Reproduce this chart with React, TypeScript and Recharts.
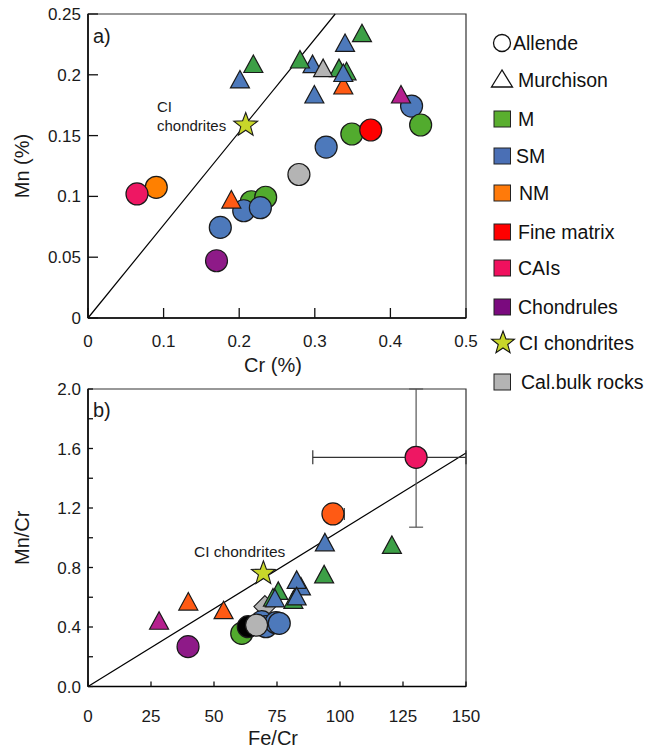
import React from 'react';
import { ScatterChart, Scatter, XAxis, YAxis, ReferenceLine, ReferenceArea, ErrorBar, Label } from 'recharts';

const FONT = '"Liberation Sans", Arial, Helvetica, sans-serif';

// ---------- Panel a: Cr (%) vs Mn (%) ----------
const aTicksX = [0, 0.1, 0.2, 0.3, 0.4, 0.5];
const aTicksY = [0, 0.05, 0.1, 0.15, 0.2, 0.25];
const aCiLine = [{ x: 0, y: 0 }, { x: 0.327, y: 0.25 }];

// Allende (circles)
const aM_circBack = [{ x: 0.216, y: 0.0956 }, { x: 0.235, y: 0.0993 }];
const aSM_circ = [{ x: 0.175, y: 0.0745 }, { x: 0.206, y: 0.0882 }, { x: 0.228, y: 0.0907 }, { x: 0.315, y: 0.1406 }, { x: 0.428, y: 0.1743 }];
const aM_circ = [{ x: 0.349, y: 0.1513 }, { x: 0.44, y: 0.1587 }];
const aNM_circ = [{ x: 0.0903, y: 0.1075 }];
const aCAI_circ = [{ x: 0.0648, y: 0.102 }];
const aChon_circ = [{ x: 0.17, y: 0.0471 }];
const aFine_circ = [{ x: 0.374, y: 0.1546 }];
const aBulk_circ = [{ x: 0.279, y: 0.118 }];
// Murchison (triangles)
const aNM_tri = [{ x: 0.1896, y: 0.0952 }, { x: 0.3377, y: 0.189 }];
const aSM_tri = [{ x: 0.201, y: 0.194 }, { x: 0.2994, y: 0.1816 }, { x: 0.297, y: 0.2066 }, { x: 0.34, y: 0.224 }, { x: 0.3377, y: 0.1993 }];
const aM_tri = [{ x: 0.2187, y: 0.2067 }, { x: 0.2804, y: 0.2104 }, { x: 0.332, y: 0.2033 }, { x: 0.342, y: 0.2007 }, { x: 0.3624, y: 0.232 }];
const aBulk_tri = [{ x: 0.311, y: 0.2033 }];
const aChon_tri = [{ x: 0.414, y: 0.1816 }];
const aCI = [{ x: 0.2086, y: 0.1587 }];

// ---------- Panel b: Fe/Cr vs Mn/Cr ----------
const bTicksX = [0, 25, 50, 75, 100, 125, 150];
const bTicksY = [0, 0.2, 0.4, 0.6, 0.8, 1.0, 1.2, 1.4, 1.6, 1.8, 2.0];
const bCiLine = [{ x: 0, y: 0 }, { x: 150, y: 1.57 }];

const bBulk_dia = [{ x: 70.2, y: 0.537 }];
const bSM_circ = [{ x: 68.9, y: 0.436 }, { x: 70.6, y: 0.402 }, { x: 74.6, y: 0.429 }, { x: 75.9, y: 0.425 }];
const bM_circ = [{ x: 61.0, y: 0.357 }];
const bAllendeBlack = [{ x: 63.6, y: 0.402 }];
const bBulk_circ = [{ x: 66.9, y: 0.413 }];
const bChon_circ = [{ x: 39.7, y: 0.268 }];
const bNM_circ = [{ x: 97.2, y: 1.16, ex: [0, 4.5] }];
// error bars run off the frame in the reference; they are cut at the frame edges
const bCAI_circ = [{ x: 130.2, y: 1.541, ex: [41, 19.8], ey: [0.47, 0.459] }];
const bChon_tri = [{ x: 28.2, y: 0.424 }];
const bNM_tri = [{ x: 39.8, y: 0.553 }, { x: 53.8, y: 0.495 }];
const bM_tri = [{ x: 75.5, y: 0.625 }, { x: 73.4, y: 0.58 }, { x: 81.5, y: 0.565 }, { x: 93.7, y: 0.736 }, { x: 120.6, y: 0.934 }];
const bSM_tri = [{ x: 84.5, y: 0.655 }, { x: 82.8, y: 0.699 }, { x: 74.2, y: 0.575 }, { x: 82.8, y: 0.588 }, { x: 94.0, y: 0.951 }];
const bCI = [{ x: 69.6, y: 0.761 }];

// ---------- Legend ----------
const legendItems = [
  { label: 'Allende', icon: 'circle', color: '#ffffff' },
  { label: 'Murchison', icon: 'triangle', color: '#ffffff' },
  { label: 'M', icon: 'square', color: '#5aae2f' },
  { label: 'SM', icon: 'square', color: '#4a6fb5' },
  { label: 'NM', icon: 'square', color: '#ff7a0a' },
  { label: 'Fine matrix', icon: 'square', color: '#ff0000' },
  { label: 'CAIs', icon: 'square', color: '#f0105e' },
  { label: 'Chondrules', icon: 'square', color: '#7a0a7e' },
  { label: 'CI chondrites', icon: 'star', color: '#c8d62a' },
  { label: 'Cal.bulk rocks', icon: 'square', color: '#b4b4b4' },
];

const C = {
  M: '#52ab2e',
  Mtri: '#3c9f46',
  SM: '#4d79bb',
  NM: '#ff8000',
  NMtri: '#ff5a14',
  fine: '#ff0000',
  CAI: '#ee1763',
  chon: '#8e1a88',
  chonTri: '#b5208e',
  CI: '#c8d62a',
  bulk: '#b4b4b4',
  black: '#000000',
};

const STROKE = '#1a1a1a';

const starPoints = (cx: number, cy: number, ro: number, ri: number) => {
  const pts: string[] = [];
  for (let i = 0; i < 10; i++) {
    const r = i % 2 === 0 ? ro : ri;
    const a = -Math.PI / 2 + (i * Math.PI) / 5;
    pts.push(`${cx + r * Math.cos(a)},${cy + r * Math.sin(a)}`);
  }
  return pts.join(' ');
};

const circ = (fill: string, r = 11) => (p: any) => (
  <circle cx={p.cx} cy={p.cy} r={r} fill={fill} stroke={STROKE} strokeWidth={1.2} />
);
const tri = (fill: string, w = 19, h = 17.5) => (p: any) => (
  <polygon
    points={`${p.cx},${p.cy - (2 * h) / 3} ${p.cx - w / 2},${p.cy + h / 3} ${p.cx + w / 2},${p.cy + h / 3}`}
    fill={fill}
    stroke={STROKE}
    strokeWidth={1.2}
    strokeLinejoin="miter"
  />
);
const star = (fill: string) => (p: any) => (
  <polygon points={starPoints(p.cx, p.cy, 12.5, 5.2)} fill={fill} stroke={STROKE} strokeWidth={1.1} />
);
const diamond = (fill: string, s = 11) => (p: any) => (
  <polygon points={`${p.cx},${p.cy - s} ${p.cx + s},${p.cy} ${p.cx},${p.cy + s} ${p.cx - s},${p.cy}`} fill={fill} stroke={STROKE} strokeWidth={1.1} />
);

const makeXTick = (len: number, dy: number, fmt: (v: number) => string) => (p: any) => (
  <g>
    <line x1={p.x} y1={p.y} x2={p.x} y2={p.y - len} stroke="#111" strokeWidth={1.3} />
    <text x={p.x} y={p.y + dy} textAnchor="middle" fontSize={17} fill="#1a1a1a" fontFamily={FONT}>
      {fmt(p.payload.value)}
    </text>
  </g>
);
const makeYTick = (len: number, fmt: (v: number) => string) => (p: any) => {
  const t = fmt(p.payload.value);
  return (
    <g>
      <line x1={p.x} y1={p.y} x2={p.x + len} y2={p.y} stroke="#111" strokeWidth={1.3} />
      {t ? (
        <text x={p.x - 7} y={p.y + 6} textAnchor="end" fontSize={17} fill="#1a1a1a" fontFamily={FONT}>
          {t}
        </text>
      ) : null}
    </g>
  );
};

const xTitle = (text: string, dy: number) => (p: any) => {
  const vb = p.viewBox || {};
  return (
    <text x={vb.x + vb.width / 2 - 4} y={vb.y + dy} textAnchor="middle" fontSize={20} fill="#1a1a1a" fontFamily={FONT}>
      {text}
    </text>
  );
};
const yTitle = (text: string) => (p: any) => {
  const vb = p.viewBox || {};
  const cx = 29;
  const cy = vb.y + vb.height / 2;
  return (
    <text x={cx} y={cy} transform={`rotate(-90, ${cx}, ${cy})`} textAnchor="middle" fontSize={20} fill="#1a1a1a" fontFamily={FONT}>
      {text}
    </text>
  );
};

const S = (data: any[], shape: any, key: string) => (
  <Scatter key={key} data={data} shape={shape} isAnimationActive={false} />
);

function PanelA() {
  return (
    <ScatterChart width={652} height={385} margin={{ top: 14, right: 186, bottom: 37, left: 28 }}>
      <XAxis
        type="number"
        dataKey="x"
        domain={[0, 0.5]}
        ticks={aTicksX}
        interval={0}
        allowDataOverflow
        tickSize={0}
        tickMargin={0}
        height={30}
        axisLine={{ stroke: '#000', strokeWidth: 1.5 }}
        tickLine={false}
        tick={makeXTick(10, 29, (v) => String(v))}
      >
        <Label content={xTitle('Cr (%)', 54)} />
      </XAxis>
      <YAxis
        type="number"
        dataKey="y"
        domain={[0, 0.25]}
        ticks={aTicksY}
        interval={0}
        allowDataOverflow
        tickSize={0}
        tickMargin={0}
        width={60}
        axisLine={{ stroke: '#000', strokeWidth: 1.5 }}
        tickLine={false}
        tick={makeYTick(10, (v) => String(v))}
      >
        <Label content={yTitle('Mn (%)')} />
      </YAxis>
      <ReferenceArea x1={0} x2={0.5} y1={0} y2={0.25} fill="none" stroke="#333" strokeWidth={1.2} ifOverflow="visible" />
      <ReferenceLine segment={aCiLine} stroke="#000" strokeWidth={1.2} ifOverflow="visible" />
      {S(aM_circBack, circ(C.M), 'm0')}
      {S(aSM_circ, circ(C.SM), 'sm')}
      {S(aM_circ, circ(C.M), 'm1')}
      {S(aNM_circ, circ(C.NM), 'nm')}
      {S(aCAI_circ, circ(C.CAI), 'cai')}
      {S(aChon_circ, circ(C.chon), 'ch')}
      {S(aFine_circ, circ(C.fine), 'fine')}
      {S(aBulk_circ, circ(C.bulk), 'bulk')}
      {S(aNM_tri, tri(C.NMtri), 'nmt')}
      {S(aSM_tri.slice(0, 4), tri(C.SM), 'smt0')}
      {S(aM_tri, tri(C.Mtri), 'mt')}
      {S(aBulk_tri, tri(C.bulk), 'bt')}
      {S(aSM_tri.slice(4), tri(C.SM), 'smt1')}
      {S(aChon_tri, tri(C.chonTri), 'cht')}
      {S(aCI, star(C.CI), 'ci')}
      <ReferenceArea
        x1={0}
        x2={0.5}
        y1={0}
        y2={0.25}
        fill="none"
        stroke="none"
        ifOverflow="visible"
        label={(p: any) => {
          const vb = p.viewBox || {};
          return (
            <g fontFamily={FONT} fill="#1a1a1a">
              <text x={vb.x + 5} y={vb.y + 29} fontSize={20}>a)</text>
              <text x={vb.x + 69} y={vb.y + 98} fontSize={15}>CI</text>
              <text x={vb.x + 69} y={vb.y + 117} fontSize={15}>chondrites</text>
            </g>
          );
        }}
      />
    </ScatterChart>
  );
}

function PanelB() {
  return (
    <ScatterChart width={652} height={382} margin={{ top: 19, right: 186, bottom: 35.5, left: 28 }}>
      <XAxis
        type="number"
        dataKey="x"
        domain={[0, 150]}
        ticks={bTicksX}
        interval={0}
        allowDataOverflow
        tickSize={0}
        tickMargin={0}
        height={30}
        axisLine={{ stroke: '#000', strokeWidth: 1.5 }}
        tickLine={false}
        tick={makeXTick(5, 35, (v) => String(v))}
      >
        <Label content={xTitle('Fe/Cr', 58)} />
      </XAxis>
      <YAxis
        type="number"
        dataKey="y"
        domain={[0, 2]}
        ticks={bTicksY}
        interval={0}
        allowDataOverflow
        tickSize={0}
        tickMargin={0}
        width={60}
        axisLine={{ stroke: '#000', strokeWidth: 1.5 }}
        tickLine={false}
        tick={makeYTick(5, (v) => (Math.round(v * 10) % 4 === 0 ? v.toFixed(1) : ''))}
      >
        <Label content={yTitle('Mn/Cr')} />
      </YAxis>
      <ReferenceArea x1={0} x2={150} y1={0} y2={2} fill="none" stroke="#333" strokeWidth={1.2} ifOverflow="visible" />
      <ReferenceLine segment={bCiLine} stroke="#000" strokeWidth={1.2} ifOverflow="visible" />
      {S(bBulk_dia, diamond(C.bulk), 'bd')}
      {S(bSM_circ, circ(C.SM), 'sm')}
      {S(bM_circ, circ(C.M), 'm')}
      {S(bAllendeBlack, circ(C.black), 'blk')}
      {S(bBulk_circ, circ(C.bulk), 'bulk')}
      {S(bChon_circ, circ(C.chon), 'ch')}
      <Scatter data={bNM_circ} shape={circ('#ff5a14')} isAnimationActive={false}>
        <ErrorBar dataKey="ex" direction="x" width={6} stroke="#333" strokeWidth={1.2} />
      </Scatter>
      <Scatter data={bCAI_circ} shape={circ(C.CAI)} isAnimationActive={false}>
        <ErrorBar dataKey="ex" direction="x" width={7} stroke="#333" strokeWidth={1.2} />
        <ErrorBar dataKey="ey" direction="y" width={7} stroke="#555" strokeWidth={1.2} />
      </Scatter>
      {S(bChon_tri, tri(C.chonTri), 'cht')}
      {S(bNM_tri, tri(C.NMtri), 'nmt')}
      {S(bM_tri, tri(C.Mtri), 'mt')}
      {S(bSM_tri, tri(C.SM), 'smt')}
      {S(bCI, star(C.CI), 'ci')}
      <ReferenceArea
        x1={0}
        x2={150}
        y1={0}
        y2={2}
        fill="none"
        stroke="none"
        ifOverflow="visible"
        label={(p: any) => {
          const vb = p.viewBox || {};
          return (
            <g fontFamily={FONT} fill="#1a1a1a">
              <text x={vb.x + 5} y={vb.y + 28} fontSize={20}>b)</text>
              <text x={vb.x + 106} y={vb.y + 168} fontSize={15.5}>CI chondrites</text>
            </g>
          );
        }}
      />
    </ScatterChart>
  );
}

function LegendBox() {
  const ys = [43, 80, 119, 156, 193, 232, 268, 307, 343, 382];
  const tx = [513, 518, 518, 516, 519, 518, 518, 518, 519, 521];
  return (
    <svg width={652} height={752} style={{ position: 'absolute', left: 0, top: 0, pointerEvents: 'none' }}>
      {legendItems.map((it, i) => {
        const y = ys[i];
        let icon: any = null;
        if (it.icon === 'circle') icon = <circle cx={502} cy={y} r={8.5} fill="#fff" stroke="#111" strokeWidth={1.3} />;
        else if (it.icon === 'triangle')
          icon = <polygon points={`502,${y - 10} ${491.5},${y + 7} ${512.5},${y + 7}`} fill="#fff" stroke="#111" strokeWidth={1.3} />;
        else if (it.icon === 'star') icon = <polygon points={starPoints(503, y, 12, 5)} fill={it.color} stroke="#111" strokeWidth={1.1} />;
        else icon = <rect x={494} y={y - 8} width={16.5} height={16} fill={it.color} stroke="#222" strokeWidth={1} />;
        return (
          <g key={it.label}>
            {icon}
            <text x={tx[i]} y={y + 7} fontSize={19.5} fill="#111" fontFamily={FONT}>
              {it.label}
            </text>
          </g>
        );
      })}
    </svg>
  );
}

export default function App() {
  return (
    <div style={{ position: 'absolute', left: 0, top: 0, width: 652, height: 752, background: '#fff', fontFamily: FONT }}>
      <div style={{ position: 'absolute', left: 0, top: 370 }}>
        <PanelB />
      </div>
      <div style={{ position: 'absolute', left: 0, top: 0 }}>
        <PanelA />
      </div>
      <LegendBox />
    </div>
  );
}
